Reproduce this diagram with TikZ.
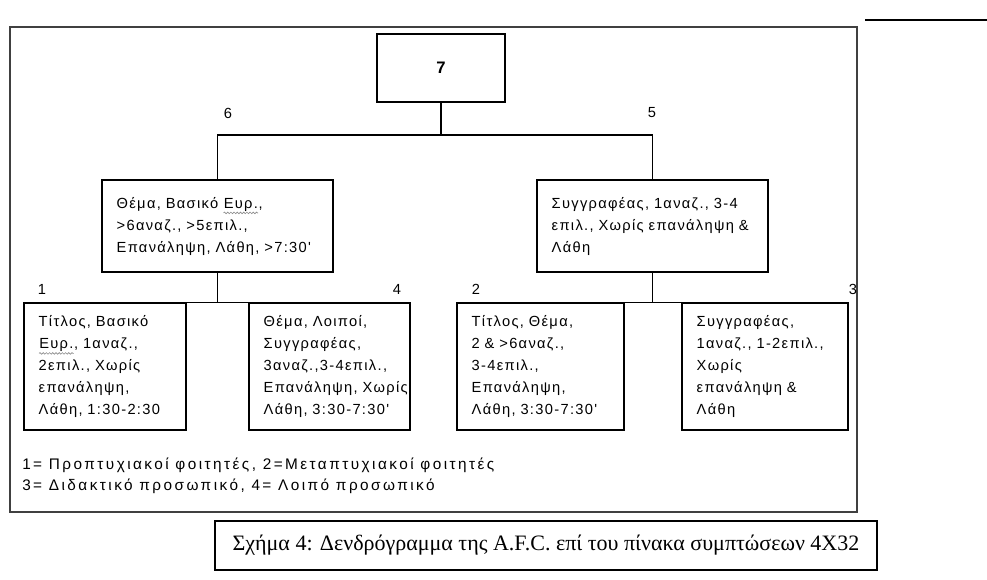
\documentclass[tikz,border=0pt]{standalone}
\usepackage{fontspec}
\setmainfont{Liberation Sans}
\newfontfamily\boxfont[LetterSpace=9]{Liberation Sans}
\newfontfamily\keyfont[LetterSpace=16]{Liberation Sans}
\newfontfamily\capfont{Liberation Serif}
\usetikzlibrary{positioning,calc,decorations.pathmorphing}
\tikzset{
  box/.style={draw, line width=1.1pt, align=left, inner xsep=11pt, inner ysep=0pt, font=\boxfont\fontsize{11}{16.5}\selectfont},
  link/.style={line width=1.1pt},
  num/.style={inner sep=0pt, font=\fontsize{11}{13}\selectfont}
}
% spell-check squiggle under a word
\newcommand\squig[1]{\tikz[baseline=(w.base)]{\node[draw=none, inner sep=0pt, text width=, minimum width=0pt, minimum height=0pt] (w) {#1};
  \draw[black!45, line width=0.5pt, decorate, decoration={snake, amplitude=0.6pt, segment length=2.4pt}] ([yshift=-1.2pt]w.south west) -- ([yshift=-1.2pt]w.south east);}}
\begin{document}
\begin{tikzpicture}[x=0.75pt, y=-0.75pt]
\useasboundingbox (0,0) rectangle (987,579);
\draw[line width=1.2pt, black!75] (10,27) rectangle (857,512);
\draw[line width=1.2pt] (865,20) -- (987,20);
% top of the tree
\node[box, align=center, minimum width=96pt, minimum height=51pt, font=\bfseries\fontsize{12.5}{14}\selectfont] (n7) at (441,68) {7};
\node[box, text width=151.25pt, minimum height=69pt] (n6) at (217.5,226) {Θέμα,~Βασικό~\squig{Ευρ.},\\ >6αναζ.,~>5επιλ.,\\ Επανάληψη,~Λάθη,~>7:30'};
\node[box, text width=151.25pt, minimum height=69pt] (n5) at (652.5,226) {Συγγραφέας,~1αναζ.,~3-4\\ επιλ.,~Χωρίς~επανάληψη~\&\\ Λάθη};
% leaves
\node[box, text width=99.5pt, minimum height=95.25pt] (n1) at (105,366.5) {Τίτλος,~Βασικό\\ \squig{Ευρ.},~1αναζ.,\\ 2επιλ.,~Χωρίς\\ επανάληψη,\\ Λάθη,~1:30-2:30};
\node[box, text width=98.75pt, minimum height=95.25pt] (n4) at (329.5,366.5) {Θέμα,~Λοιποί,\\ Συγγραφέας,\\ 3αναζ.,3-4επιλ.,\\ Επανάληψη,~Χωρίς\\ Λάθη,~3:30-7:30'};
\node[box, text width=103.25pt, minimum height=95.25pt] (n2) at (540.5,366.5) {Τίτλος,~Θέμα,\\ 2~\&~>6αναζ.,\\ 3-4επιλ.,\\ Επανάληψη,\\ Λάθη,~3:30-7:30'};
\node[box, text width=102.5pt, minimum height=95.25pt] (n3) at (765,366.5) {Συγγραφέας,\\ 1αναζ.,~1-2επιλ.,\\ Χωρίς\\ επανάληψη~\&\\ Λάθη};
% branches
\coordinate (j7) at (441,135);
\draw[link] (n7.south) -- (j7);
\draw[link] (n6.north) |- (j7) -| (n5.north);
\draw[link] (n6.south) -- (n6.south |- n1.north) (n1.north) -- (n4.north);
\draw[link] (n5.south) -- (n5.south |- n2.north) (n2.north) -- (n3.north);
\foreach \t/\x/\y in {6/228/113, 5/652/113, 1/42/289, 4/397/289, 2/476/289, 3/853/289}
  \node[num] (lab\t) at (\x,\y) {\t};
% legend and caption
\node[num, anchor=west, font=\keyfont\fontsize{11.5}{13}\selectfont] (key1) at (22,465) {1= Προπτυχιακοί φοιτητές, 2=Μεταπτυχιακοί φοιτητές};
\node[num, anchor=west, font=\keyfont\fontsize{11.5}{13}\selectfont] (key2) at (22,486) {3= Διδακτικό προσωπικό, 4= Λοιπό προσωπικό};
\node[draw, line width=1.4pt, minimum width=496.5pt, minimum height=36.75pt, font=\capfont\fontsize{16.5}{18}\selectfont] (cap) at (546,545.5) {Σχήμα 4: Δενδρόγραμμα της A.F.C. επί του πίνακα συμπτώσεων 4Χ32};
\end{tikzpicture}
\end{document}
